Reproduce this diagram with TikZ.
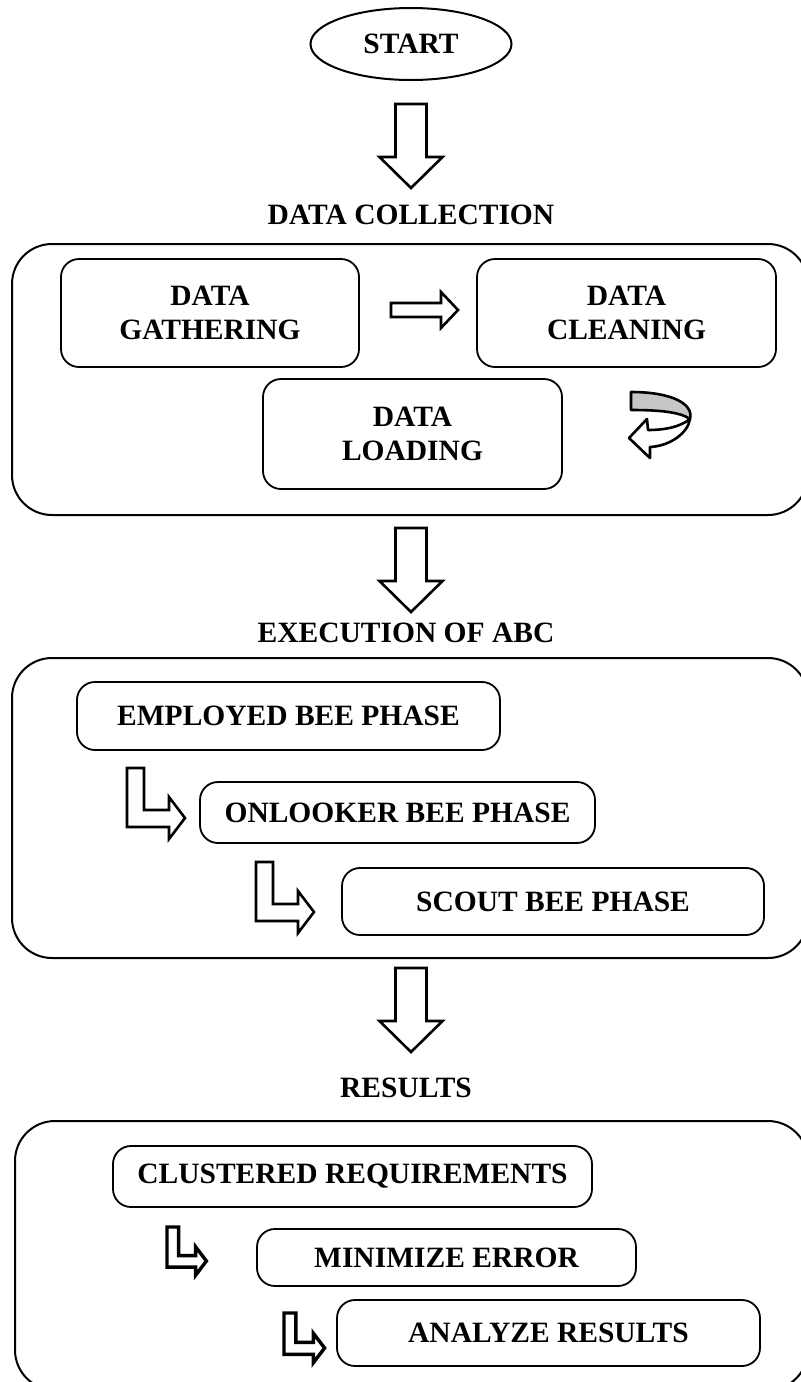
\documentclass[tikz,border=0pt]{standalone}
\usepackage{fontspec}
\setmainfont{Liberation Serif}
\usetikzlibrary{shapes.geometric}

\tikzset{
  flowfont/.style={font=\fontsize{14.75}{17}\selectfont\bfseries},
  stagebox/.style={draw, line width=1pt, rounded corners=20pt, inner sep=0pt},
  taskbox/.style={draw, line width=0.9pt, rounded corners=9pt, align=center, inner sep=0pt},
  blockarrow/.style={draw, line width=1.3pt, fill=white, line join=miter},
  pics/bigdown/.style={code={
    \path[blockarrow] (-15.5,0) -- (15.5,0) -- (15.5,53) -- (31.5,53) -- (0,84)
      -- (-31.5,53) -- (-15.5,53) -- cycle;}},
  pics/sideright/.style={code={
    \path[blockarrow] (0,-7) -- (50,-7) -- (50,-18) -- (67,0) -- (50,18) -- (50,7)
      -- (0,7) -- cycle;}},
  pics/elbow/.style={code={
    \path[blockarrow] (0,0) -- (17,0) -- (17,42) -- (42,42) -- (42,29) -- (58,50)
      -- (42,71) -- (42,59) -- (0,59) -- cycle;}},
}

\begin{document}
\begin{tikzpicture}[x=0.5pt, y=-0.5pt, every node/.style={flowfont}]
  \clip (0,0) rectangle (801,1382);
  \fill[white] (0,0) rectangle (801,1382);

  % start
  \node[draw, ellipse, line width=1pt, minimum width=100.5pt, minimum height=36pt] (start) at (411,44) {START};
  \pic at (411,104) {bigdown};

  % data collection
  \node (collecttitle) at (411,215) {DATA COLLECTION};
  \node[stagebox, minimum width=398pt, minimum height=135.5pt] (collectbox) at (410,379.5) {};
  \node[taskbox, minimum width=149pt, minimum height=54pt] (gather) at (210,313) {DATA\\GATHERING};
  \node[taskbox, minimum width=149.5pt, minimum height=54pt] (clean) at (626.5,313) {DATA\\CLEANING};
  \node[taskbox, minimum width=149.5pt, minimum height=55pt] (load) at (412.5,434) {DATA\\LOADING};
  \pic at (391,310) {sideright};
  % curved return arrow
  \path[draw, line width=1.3pt, fill=gray!45, line join=round]
    (631,392) .. controls (672,392) and (694,404) .. (690,419)
    .. controls (680,412) and (660,410) .. (631,410) -- cycle;
  \path[blockarrow, line join=round]
    (690,419) .. controls (688,433) and (670,446) .. (650,447) -- (650,458) -- (629,438)
    -- (647,419) -- (648,430) .. controls (665,430) and (680,427) .. (690,419);

  \pic at (411,528) {bigdown};

  % execution of abc
  \node (exectitle) at (406,633) {EXECUTION OF ABC};
  \node[stagebox, minimum width=398pt, minimum height=150pt] (execbox) at (410,808) {};
  \node[taskbox, minimum width=211.5pt, minimum height=34pt] (employed) at (288.5,716) {EMPLOYED BEE PHASE};
  \node[taskbox, minimum width=197.5pt, minimum height=30.5pt] (onlooker) at (397.5,812.5) {ONLOOKER BEE PHASE};
  \node[taskbox, minimum width=211pt, minimum height=33.5pt] (scout) at (553,901.5) {SCOUT BEE PHASE};
  \pic at (127,768) {elbow};
  \pic at (256,862) {elbow};

  \pic at (411,968) {bigdown};

  % results
  \node (resulttitle) at (406,1088) {RESULTS};
  \node[stagebox, minimum width=396.5pt, minimum height=134.5pt] (resultbox) at (411.5,1255.5) {};
  \node[taskbox, minimum width=239.5pt, minimum height=30.5pt] (clustered) at (352.5,1176.5) {CLUSTERED REQUIREMENTS};
  \node[taskbox, minimum width=189.5pt, minimum height=28.5pt] (minimize) at (446.5,1257.5) {MINIMIZE ERROR};
  \node[taskbox, minimum width=211.5pt, minimum height=33pt] (analyze) at (548.5,1333) {ANALYZE RESULTS};
  \pic[scale=0.68, blockarrow/.append style={line width=1.7pt}] at (167,1227) {elbow};
  \pic[scale=0.7, blockarrow/.append style={line width=1.7pt}] at (284,1313) {elbow};
\end{tikzpicture}
\end{document}
